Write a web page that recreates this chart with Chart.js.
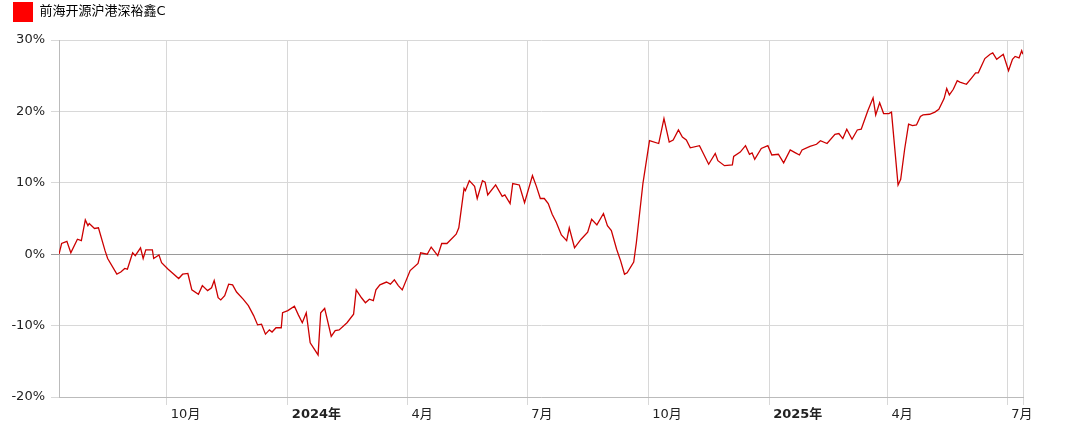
<!DOCTYPE html>
<html>
<head>
<meta charset="utf-8">
<script src="https://cdn.jsdelivr.net/npm/chart.js@4.4.1/dist/chart.umd.min.js"></script>
<style>
  html, body { margin: 0; padding: 0; background: #fff; }
  #wrap { width: 1080px; height: 428px; position: relative; }
</style>
</head>
<body>
<div id="wrap"><canvas id="c"></canvas></div>
<script>
const seriesName = '前海开源沪港深裕鑫C';

const dates = ['2023-07-11','2023-07-13','2023-07-17','2023-07-20','2023-07-25','2023-07-28','2023-07-31','2023-08-02','2023-08-03','2023-08-07','2023-08-10','2023-08-15','2023-08-17','2023-08-24','2023-08-27','2023-08-30','2023-09-01','2023-09-05','2023-09-07','2023-09-11','2023-09-13','2023-09-15','2023-09-20','2023-09-21','2023-09-25','2023-09-27','2023-10-02','2023-10-10','2023-10-13','2023-10-17','2023-10-20','2023-10-25','2023-10-28','2023-11-01','2023-11-04','2023-11-06','2023-11-09','2023-11-11','2023-11-14','2023-11-17','2023-11-20','2023-11-23','2023-11-28','2023-12-02','2023-12-06','2023-12-09','2023-12-12','2023-12-15','2023-12-18','2023-12-20','2023-12-23','2023-12-27','2023-12-28','2024-01-01','2024-01-06','2024-01-09','2024-01-12','2024-01-15','2024-01-18','2024-01-24','2024-01-26','2024-01-29','2024-02-03','2024-02-06','2024-02-09','2024-02-15','2024-02-20','2024-02-22','2024-02-26','2024-02-29','2024-03-03','2024-03-06','2024-03-08','2024-03-11','2024-03-16','2024-03-19','2024-03-22','2024-03-25','2024-03-28','2024-04-03','2024-04-09','2024-04-11','2024-04-16','2024-04-19','2024-04-24','2024-04-27','2024-05-01','2024-05-08','2024-05-10','2024-05-14','2024-05-15','2024-05-18','2024-05-22','2024-05-24','2024-05-28','2024-05-30','2024-06-01','2024-06-07','2024-06-12','2024-06-14','2024-06-18','2024-06-20','2024-06-25','2024-06-29','2024-07-05','2024-07-08','2024-07-11','2024-07-14','2024-07-17','2024-07-20','2024-07-23','2024-07-27','2024-07-31','2024-08-02','2024-08-06','2024-08-11','2024-08-16','2024-08-19','2024-08-23','2024-08-28','2024-08-31','2024-09-03','2024-09-07','2024-09-10','2024-09-13','2024-09-15','2024-09-20','2024-09-22','2024-09-27','2024-10-02','2024-10-09','2024-10-13','2024-10-17','2024-10-20','2024-10-24','2024-10-27','2024-10-30','2024-11-02','2024-11-09','2024-11-16','2024-11-21','2024-11-23','2024-11-28','2024-12-04','2024-12-05','2024-12-10','2024-12-14','2024-12-17','2024-12-19','2024-12-21','2024-12-26','2024-12-31','2025-01-03','2025-01-08','2025-01-12','2025-01-17','2025-01-21','2025-01-24','2025-01-26','2025-02-01','2025-02-06','2025-02-09','2025-02-14','2025-02-20','2025-02-23','2025-02-26','2025-03-01','2025-03-05','2025-03-09','2025-03-12','2025-03-17','2025-03-21','2025-03-23','2025-03-26','2025-03-29','2025-04-02','2025-04-04','2025-04-09','2025-04-11','2025-04-14','2025-04-17','2025-04-20','2025-04-23','2025-04-26','2025-04-28','2025-05-03','2025-05-07','2025-05-10','2025-05-14','2025-05-16','2025-05-18','2025-05-21','2025-05-24','2025-05-26','2025-05-31','2025-06-04','2025-06-07','2025-06-09','2025-06-12','2025-06-14','2025-06-18','2025-06-20','2025-06-23','2025-06-28','2025-07-02','2025-07-05','2025-07-07','2025-07-10','2025-07-12','2025-07-13'];

const returns = [0, 1.5, 1.8, 0.2, 2.1, 1.9, 4.8, 4.0, 4.3, 3.6, 3.7, 0.5, -0.6, -2.8, -2.5, -2.0, -2.1, 0.2, -0.2, 0.9, -0.6, 0.6, 0.6, -0.6, -0.1, -1.2, -2.1, -3.4, -2.8, -2.7, -5.0, -5.6, -4.4, -5.1, -4.7, -3.7, -6.1, -6.4, -5.8, -4.2, -4.3, -5.3, -6.3, -7.2, -8.6, -9.9, -9.8, -11.2, -10.6, -10.9, -10.3, -10.3, -8.2, -7.9, -7.3, -8.5, -9.6, -8.2, -12.4, -14.1, -8.2, -7.6, -11.5, -10.7, -10.6, -9.6, -8.4, -5.0, -6.1, -6.8, -6.3, -6.5, -5.0, -4.3, -3.9, -4.2, -3.6, -4.4, -5.0, -2.3, -1.3, 0.2, 0.0, 1.0, -0.2, 1.5, 1.5, 2.8, 3.7, 9.2, 8.9, 10.3, 9.5, 7.8, 10.3, 10.1, 8.3, 9.7, 8.1, 8.3, 7.1, 9.9, 9.7, 7.2, 11.0, 9.5, 7.8, 7.8, 7.1, 5.6, 4.5, 2.7, 1.9, 3.7, 0.9, 2.1, 3.1, 4.9, 4.1, 5.7, 4.0, 3.3, 0.7, -0.9, -2.8, -2.6, -1.1, 1.6, 9.9, 15.9, 15.5, 19.0, 15.7, 16.0, 17.4, 16.4, 16.0, 14.9, 15.2, 12.6, 14.1, 13.1, 12.4, 12.5, 13.7, 14.3, 15.2, 14.0, 14.2, 13.3, 14.8, 15.2, 13.9, 14.0, 12.8, 14.6, 14.2, 13.9, 14.6, 15.1, 15.4, 15.9, 15.5, 16.8, 16.9, 16.2, 17.5, 16.1, 17.4, 17.5, 20.1, 21.9, 19.5, 21.2, 19.7, 19.7, 19.9, 9.7, 10.5, 14.7, 18.2, 18.0, 18.1, 19.3, 19.5, 19.6, 19.9, 20.3, 21.8, 23.2, 22.3, 23.1, 24.3, 24.1, 23.8, 24.7, 25.4, 25.4, 26.6, 27.4, 28.0, 28.2, 27.3, 28.0, 25.7, 27.3, 27.7, 27.5, 28.5, 28.0];

const tickDates  = ['2023-10-01','2024-01-01','2024-04-01','2024-07-01','2024-10-01','2025-01-01','2025-04-01','2025-07-01'];
const tickLabels = ['10月','2024年','4月','7月','10月','2025年','4月','7月'];
const yTicks = [-20, -10, 0, 10, 20, 30];

if (dates.length !== returns.length) throw new Error('length mismatch ' + dates.length + ' vs ' + returns.length);

const dayNum = s => Date.UTC(+s.slice(0,4), +s.slice(5,7) - 1, +s.slice(8,10)) / 86400000;
const points = dates.map((d, i) => ({ x: dayNum(d), y: returns[i] }));
const tickVals = tickDates.map(dayNum);
const xMin = dayNum(dates[0]);
const xMax = dayNum(dates[dates.length - 1]);
const FONT = '"DejaVu Sans", "Noto Sans CJK SC", sans-serif';

const legendHeightPlugin = {
  id: 'legendHeight',
  beforeLayout(chart) {
    const lg = chart.legend;
    if (lg && !lg._patched) {
      const f = lg.fit;
      lg.fit = function () { f.call(this); this.height = 40; };
      lg._patched = true;
    }
  }
};

new Chart(document.getElementById('c'), {
  type: 'line',
  data: {
    datasets: [{
      label: seriesName,
      data: points,
      borderColor: '#cc0000',
      backgroundColor: '#ff0000',
      borderWidth: 1.3,
      pointRadius: 0,
      pointHoverRadius: 0,
      tension: 0,
      fill: false
    }]
  },
  options: {
    responsive: true,
    maintainAspectRatio: false,
    animation: false,
    events: [],
    layout: { padding: { left: 11, right: 57, top: 0, bottom: 0 } },
    plugins: {
      tooltip: { enabled: false },
      legend: {
        display: true,
        position: 'top',
        align: 'start',
        labels: {
          boxWidth: 20,
          boxHeight: 20,
          padding: 2,
          color: '#333',
          font: { family: FONT, size: 13 },
          generateLabels: (chart) => [{
            text: seriesName,
            fillStyle: '#ff0000',
            strokeStyle: '#ff0000',
            lineWidth: 0,
            hidden: false,
            datasetIndex: 0
          }]
        }
      }
    },
    scales: {
      x: {
        type: 'linear',
        min: xMin,
        max: xMax,
        afterBuildTicks(scale) {
          scale.ticks = tickVals.map(v => ({ value: v })).concat([{ value: xMax }]);
        },
        afterFit(scale) { scale.height = 31; },
        grid: { color: '#d8d8d8', lineWidth: 1, tickLength: 8, drawTicks: true },
        border: { color: '#bbb' },
        ticks: {
          autoSkip: false,
          maxRotation: 0,
          align: 'start',
          labelOffset: 4,
          padding: 2,
          color: '#222',
          font: (ctx) => {
            const v = ctx.tick ? ctx.tick.value : null;
            const i = tickVals.indexOf(v);
            const bold = i >= 0 && tickLabels[i].indexOf('年') >= 0;
            return { family: FONT, size: 13, weight: bold ? 'bold' : 'normal' };
          },
          callback: (value) => {
            const i = tickVals.indexOf(value);
            return i >= 0 ? tickLabels[i] : '';
          }
        }
      },
      y: {
        min: yTicks[0],
        max: yTicks[yTicks.length - 1],
        afterBuildTicks(scale) { scale.ticks = yTicks.map(v => ({ value: v })); },
        afterFit(scale) { scale.width = 48; },
        grid: {
          color: (ctx) => (ctx.tick && ctx.tick.value === 0 ? '#9a9a9a' : '#d8d8d8'),
          lineWidth: 1,
          tickLength: 8
        },
        border: { color: '#bbb' },
        ticks: {
          padding: 6,
          color: '#222',
          font: { family: FONT, size: 13 },
          callback: (v) => v + '%'
        }
      }
    }
  },
  plugins: [legendHeightPlugin]
});
</script>
</body>
</html>
